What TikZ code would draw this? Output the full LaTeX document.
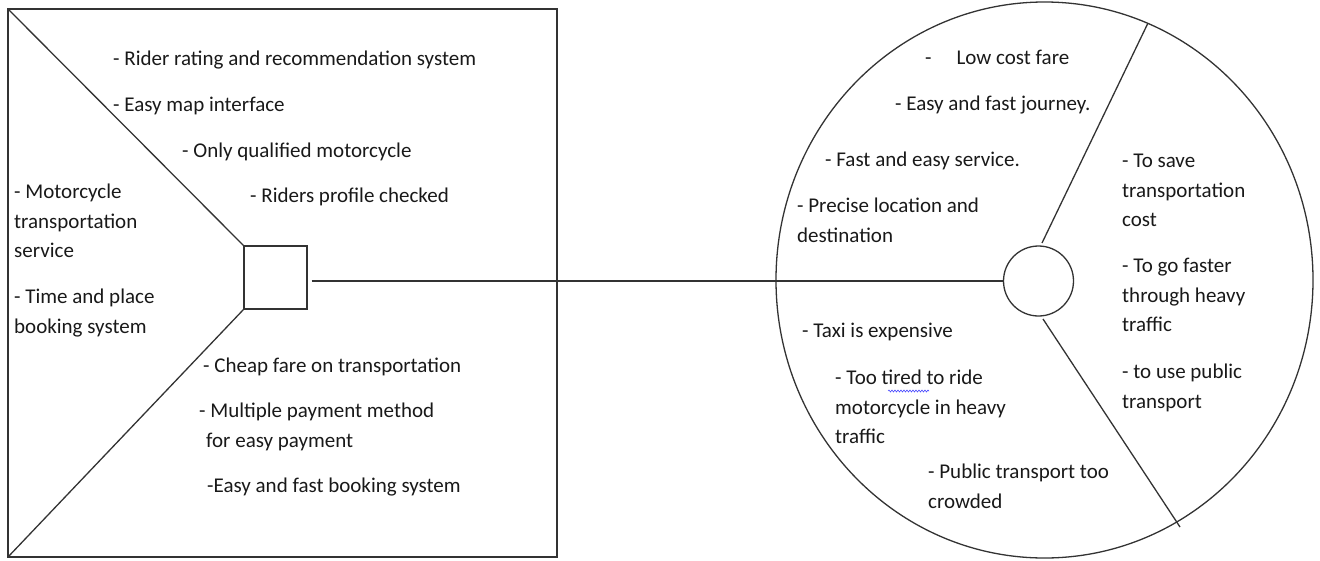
\documentclass[tikz,border=0pt]{standalone}
\usepackage{fontspec}
\setmainfont{Carlito}
\usetikzlibrary{decorations.pathmorphing}
\tikzset{
  txt/.style={anchor=north west, inner sep=0pt, align=left,
    font=\fontsize{21}{29.5}\selectfont, text=black!90},
  ln/.style={draw=black!80, line width=1.3pt},
}
\begin{document}
\begin{tikzpicture}[x=1pt,y=-1pt]
\useasboundingbox (0,0) rectangle (1320,560);
% left frame
\draw[ln] (8,9) rectangle (557,557);
\node[ln, draw, minimum size=63pt, inner sep=0pt] (box) at (275.5,277.5) {};
\draw[ln] (8,9) -- (box.north west);
\draw[ln] (8,557) -- (box.south west);
% right circle
\draw[ln] (1044.5,280) ellipse [x radius=268.5, y radius=278];
\node[ln, draw, circle, minimum size=70pt, inner sep=0pt] (hub) at (1038.5,281) {};
\draw[ln] ([xshift=4pt]box.east |- hub.west) -- (hub.west);
\coordinate (u1) at (1042,243);
\coordinate (u2) at (1148,23);
\coordinate (l1) at (1043,319);
\coordinate (l2) at (1180,527);
\draw[ln] (u1) -- (u2);
\draw[ln] (l1) -- (l2);
% left texts
\node[txt] (t1) at (113,45) {\strut- Rider rating and recommendation system};
\node[txt] (t2) at (113,91) {\strut- Easy map interface};
\node[txt] (t3) at (182,137) {\strut- Only qualified motorcycle};
\node[txt] (t4) at (250,182) {\strut- Riders profile checked};
\node[txt] (t5) at (14,178) {\strut- Motorcycle\\transportation\\service};
\node[txt] (t6) at (14,283) {\strut- Time and place\\booking system};
\node[txt] (t7) at (203,352) {\strut- Cheap fare on transportation};
\node[txt] (t8) at (199,397) {\strut- Multiple payment method\\\hspace*{7pt}for easy payment};
\node[txt] (t9) at (207,472) {\strut-Easy and fast booking system};
% right texts
\node[txt] (r1) at (925,44) {\strut-\hspace*{25pt}Low cost fare};
\node[txt] (r2) at (895,90) {\strut- Easy and fast journey.};
\node[txt] (r3) at (825,146) {\strut- Fast and easy service.};
\node[txt] (r4) at (797,192) {\strut- Precise location and\\destination};
\node[txt] (r5) at (1122,147) {\strut- To save\\transportation\\cost};
\node[txt] (r6) at (1122,252) {\strut- To go faster\\through heavy\\traffic};
\node[txt] (r7) at (1122,358) {\strut- to use public\\transport};
\node[txt] (r8) at (802,317) {\strut- Taxi is expensive};
\node[txt] (r9) at (835,364) {\strut- Too tired to ride\\motorcycle in heavy\\traffic};
\node[txt] (r10) at (928,458) {\strut- Public transport too\\crowded};
\draw[blue!70, line width=0.6pt, decorate, decoration={snake, amplitude=1pt, segment length=3pt}] (888,391) -- (929,391);
\end{tikzpicture}
\end{document}
